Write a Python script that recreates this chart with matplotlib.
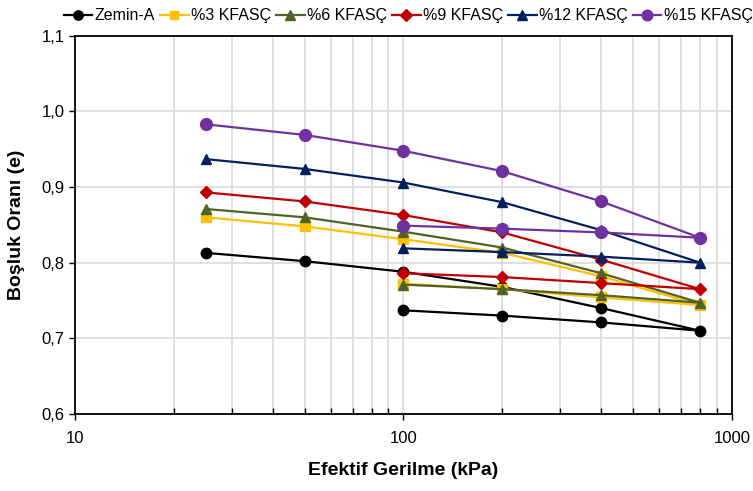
import numpy as np
import matplotlib
matplotlib.use('Agg')
import matplotlib.pyplot as plt
from matplotlib.ticker import FixedLocator, NullFormatter

#==========================================================
# data : loading (25-800 kPa) then unloading (800-100 kPa)
#==========================================================
stress = [25, 50, 100, 200, 400, 800, 400, 200, 100]

zemin = [0.813, 0.802, 0.788, 0.768, 0.740, 0.710, 0.721, 0.730, 0.737]
kf3   = [0.860, 0.848, 0.831, 0.813, 0.782, 0.744, 0.754, 0.765, 0.772]
kf6   = [0.871, 0.860, 0.841, 0.820, 0.786, 0.747, 0.757, 0.765, 0.771]
kf9   = [0.893, 0.881, 0.863, 0.840, 0.804, 0.765, 0.773, 0.781, 0.786]
kf12  = [0.937, 0.924, 0.906, 0.880, 0.843, 0.800, 0.808, 0.814, 0.819]
kf15  = [0.983, 0.969, 0.948, 0.921, 0.881, 0.833, 0.840, 0.845, 0.849]

names = ['Zemin-A', '%3 KFASÇ', '%6 KFASÇ', '%9 KFASÇ', '%12 KFASÇ', '%15 KFASÇ']

#==========================================================
# style
#==========================================================
plt.rcParams['font.family'] = ['Liberation Sans', 'DejaVu Sans']

colors  = ['black', '#FFC000', '#4F6228', '#C00000', '#002060', '#7030A0']
markers = ['o', 's', '^', 'D', '^', 'o']
msizes  = [7.5, 6.5, 7.5, 6.5, 7.5, 8.5]

fig = plt.figure(figsize=(7.53, 4.91), dpi=100)
ax = fig.add_axes([0.0996, 0.157, 0.8724, 0.770])

series = [zemin, kf3, kf6, kf9, kf12, kf15]
for i in range(6):
    ax.plot(stress, series[i], color=colors[i], marker=markers[i],
            markersize=msizes[i], linewidth=1.6, label=names[i], zorder=3+i)

ax.set_xscale('log')
ax.set_xlim(10, 1000)
ax.set_ylim(0.6, 1.1)

ax.set_xticks([10, 100, 1000])
ax.set_xticklabels(['10', '100', '1000'])
minors = [v*d for d in (10, 100) for v in range(2, 10)]
ax.xaxis.set_minor_locator(FixedLocator(minors))
ax.xaxis.set_minor_formatter(NullFormatter())

yt = np.arange(0.6, 1.101, 0.1)
ax.set_yticks(yt)
ax.set_yticklabels([('%.1f' % v).replace('.', ',') for v in yt])

ax.grid(which='major', color='#D9D9D9', linewidth=1.2, zorder=0)
ax.grid(which='minor', axis='x', color='#D9D9D9', linewidth=1.2, zorder=0)
ax.set_axisbelow(True)

ax.tick_params(axis='both', which='major', labelsize=12, direction='out',
               length=4, width=1, color='black')
ax.tick_params(axis='x', which='minor', direction='in', length=4, width=1)
ax.tick_params(axis='x', which='major', pad=8)

for s in ax.spines.values():
    s.set_linewidth(1.3)
    s.set_color('black')

ax.set_xlabel('Efektif Gerilme (kPa)', fontsize=14, fontweight='bold', labelpad=12)
ax.set_ylabel('Boşluk Oranı (e)', fontsize=14, fontweight='bold', labelpad=12)

fig.legend(loc='upper center', bbox_to_anchor=(0.542, 1.012), ncol=6,
           frameon=False, fontsize=11.5, handlelength=1.8, handletextpad=0.15,
           columnspacing=0.3, markerscale=0.9)

plt.savefig('out.png', dpi=100)
plt.close()
